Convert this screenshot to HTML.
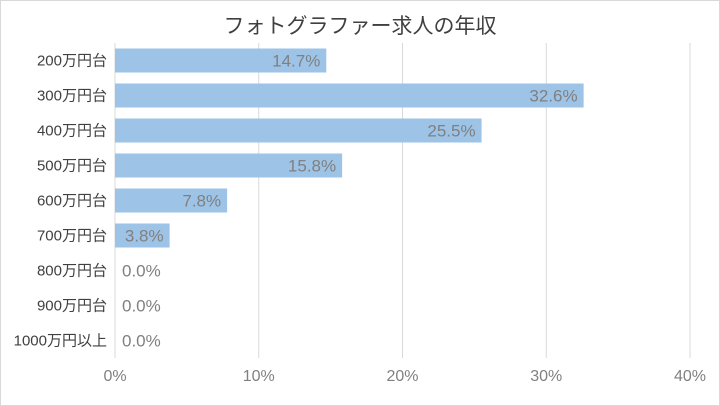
<!DOCTYPE html>
<html><head><meta charset="utf-8">
<style>
html,body{margin:0;padding:0;background:#fff;}
svg{display:block;font-family:"Liberation Sans","Noto Sans CJK JP",sans-serif;}
</style></head>
<body>
<svg id="chart" width="720" height="406" viewBox="0 0 720 406">
<rect x="0.5" y="0.5" width="719" height="405" fill="#fff" stroke="#d9d9d9"/>
<text x="360" y="33" text-anchor="middle" font-size="21" fill="#404040">フォトグラファー求人の年収</text>
<g id="grid"></g>
<g id="bars"></g>
<g id="labels"></g>
</svg>
<script>
const categories=["200万円台","300万円台","400万円台","500万円台","600万円台","700万円台","800万円台","900万円台","1000万円以上"];
const values=[14.7,32.6,25.5,15.8,7.8,3.8,0,0,0];
const ticks=[0,10,20,30,40];
const tickLabels=["0%","10%","20%","30%","40%"];
const NS="http://www.w3.org/2000/svg";
const x0=115,x1=690,xMax=40,plotTop=43,rowH=35,barH=24;
const xs=v=>x0+(v/xMax)*(x1-x0);
const ys=i=>plotTop+rowH*i+rowH/2;
function mk(tag,attrs,parent){const e=document.createElementNS(NS,tag);for(const k in attrs)e.setAttribute(k,attrs[k]);parent.appendChild(e);return e;}
const g=document.getElementById('grid'),b=document.getElementById('bars'),l=document.getElementById('labels');
ticks.forEach((t,i)=>{
  const ln=mk('line',{x1:xs(t),x2:xs(t),y1:plotTop,y2:plotTop+rowH*categories.length,stroke:'#d9d9d9','stroke-width':1},g);
  
  
  const tx=mk('text',{x:xs(t),y:381,'text-anchor':'middle','font-size':16,fill:'#808080'},g);
  tx.textContent=tickLabels[i];
  
  
});
categories.forEach((c,i)=>{
  const cy=ys(i);
  const r=mk('rect',{x:x0,y:cy-barH/2,width:xs(values[i])-x0,height:barH,fill:'#9dc3e6'},b);
  
  
  const ct=mk('text',{x:107,y:cy+5,'text-anchor':'end','font-size':15,fill:'#404040'},l);
  ct.textContent=c;
  
  
  const v=values[i];
  const vt=v>0?mk('text',{x:xs(v)-6,y:cy+6,'text-anchor':'end','font-size':17,fill:'#808080'},l)
             :mk('text',{x:x0+7,y:cy+6,'text-anchor':'start','font-size':17,fill:'#808080'},l);
  vt.textContent=v.toFixed(1)+'%';
  
  
});
</script>
</body></html>
